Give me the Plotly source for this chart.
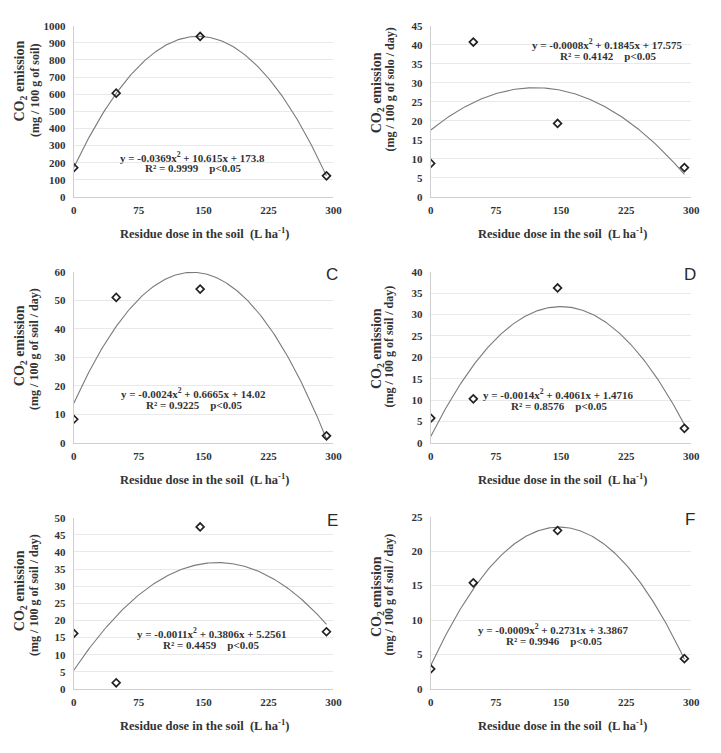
import numpy as np
import plotly.graph_objects as go

W, H = 721, 753

# ---------------- data ----------------
doses = [0, 49, 146, 292]
y_A = [171, 606, 937, 123]
y_B = [8.8, 40.7, 19.3, 7.7]
y_C = [8.3, 51.0, 53.9, 2.5]
y_D = [5.8, 10.3, 36.2, 3.4]
y_E = [16.2, 1.8, 47.3, 16.7]
y_F = [2.9, 15.4, 23.0, 4.4]

eq_A = ["y = -0.0369x<sup>2</sup> + 10.615x + 173.8", "R² = 0.9999    p<0.05"]
eq_B = ["y = -0.0008x<sup>2</sup> + 0.1845x + 17.575", "R² = 0.4142    p<0.05"]
eq_C = ["y = -0.0024x<sup>2</sup> + 0.6665x + 14.02", "R² = 0.9225    p<0.05"]
eq_D = ["y = -0.0014x<sup>2</sup> + 0.4061x + 1.4716", "R² = 0.8576    p<0.05"]
eq_E = ["y = -0.0011x<sup>2</sup> + 0.3806x + 5.2561", "R² = 0.4459    p<0.05"]
eq_F = ["y = -0.0009x<sup>2</sup> + 0.2731x + 3.3867", "R² = 0.9946    p<0.05"]

ytitle1 = "CO<sub>2</sub> emission"
ytitle2_A = "(mg / 100 g of soil)"
ytitle2_B = "(mg / 100 g of solo / day)"
ytitle2_C = "(mg / 100 g of soil / day)"
xtitle = "Residue dose in the soil  (L ha<sup>-1</sup>)"

x_ticks = [0, 75, 150, 225, 300]
ymax_A, ystep_A = 1000, 100
ymax_B, ystep_B = 45, 5
ymax_C, ystep_C = 60, 10
ymax_D, ystep_D = 40, 5
ymax_E, ystep_E = 50, 5
ymax_F, ystep_F = 25, 5
letters = ["", "", "C", "D", "E", "F"]

# ---------------- layout geometry (pixels) ----------------
panels = [
    dict(y=y_A, eq=eq_A, yt2=ytitle2_A, ymax=ymax_A, ystep=ystep_A,
         x0=72, x1=336, top=20, bot=194, eqx=193, eqy=153,
         yt1=(18, 76), yt2p=(32, 85)),
    dict(y=y_B, eq=eq_B, yt2=ytitle2_B, ymax=ymax_B, ystep=ystep_B,
         x0=435, x1=700, top=20, bot=194, eqx=615, eqy=39,
         yt1=(381, 88), yt2p=(393.5, 85)),
    dict(y=y_C, eq=eq_C, yt2=ytitle2_C, ymax=ymax_C, ystep=ystep_C,
         x0=72, x1=336, top=270, bot=444, eqx=194, eqy=393,
         yt1=(18, 345), yt2p=(32, 348)),
    dict(y=y_D, eq=eq_D, yt2=ytitle2_C, ymax=ymax_D, ystep=ystep_D,
         x0=435, x1=700, top=270, bot=444, eqx=565, eqy=394,
         yt1=(381, 348), yt2p=(393.5, 346)),
    dict(y=y_E, eq=eq_E, yt2=ytitle2_C, ymax=ymax_E, ystep=ystep_E,
         x0=72, x1=336, top=520, bot=694, eqx=212, eqy=637,
         yt1=(18, 594), yt2p=(32, 598)),
    dict(y=y_F, eq=eq_F, yt2=ytitle2_C, ymax=ymax_F, ystep=ystep_F,
         x0=435, x1=700, top=519, bot=694, eqx=560, eqy=633,
         yt1=(381, 600), yt2p=(393.5, 598)),
]

SERIF = "Liberation Serif, Times New Roman, serif"
SANS = "Liberation Sans, Arial, sans-serif"
TXT = "#333333"

def px(x):
    return x / W

def py(y):
    return 1 - y / H

fig = go.Figure()
layout = dict(width=W, height=H, margin=dict(l=0, r=0, t=0, b=0, pad=0),
              paper_bgcolor="white", plot_bgcolor="white", showlegend=False)
annotations = []

xs = np.linspace(0, doses[-1], 200)
for i, p in enumerate(panels):
    n = i + 1
    xa = "x" if n == 1 else f"x{n}"
    ya = "y" if n == 1 else f"y{n}"
    # quadratic least-squares trendline (as the spreadsheet trendline)
    a, b, c = np.polyfit(doses, p["y"], 2)
    fig.add_trace(go.Scatter(x=xs, y=a * xs**2 + b * xs + c, mode="lines",
                             line=dict(color="#7a7a7a", width=1.1),
                             xaxis=xa, yaxis=ya, hoverinfo="skip"))
    fig.add_trace(go.Scatter(x=doses, y=p["y"], mode="markers",
                             marker=dict(symbol="diamond-open", size=6,
                                         color="#222222", line=dict(width=1.7)),
                             xaxis=xa, yaxis=ya))
    xkey = "xaxis" if n == 1 else f"xaxis{n}"
    ykey = "yaxis" if n == 1 else f"yaxis{n}"
    layout[xkey] = dict(domain=[px(p["x0"]), px(p["x1"])], anchor=ya,
                        range=[0, 300], tickvals=x_ticks, showgrid=False,
                        zeroline=False, showline=True, linecolor="#cfcfcf",
                        linewidth=1, ticks="outside", ticklen=3,
                        tickcolor="rgba(0,0,0,0)",
                        tickfont=dict(family=SERIF, size=11, color=TXT,
                                      weight="bold"))
    layout[ykey] = dict(domain=[py(p["bot"]), py(p["top"])], anchor=xa,
                        range=[0, p["ymax"]], dtick=p["ystep"], tick0=0,
                        showgrid=True, gridcolor="#e9e9e9", gridwidth=1,
                        zeroline=False, showline=True, linecolor="#cfcfcf",
                        linewidth=1, ticks="outside", ticklen=5,
                        tickcolor="rgba(0,0,0,0)",
                        tickfont=dict(family=SERIF, size=11, color=TXT,
                                      weight="bold"))
    # equation
    for k in range(2):
        annotations.append(dict(x=px(p["eqx"]), y=py(p["eqy"] + 12 * k),
                                xref="paper", yref="paper", text=p["eq"][k],
                                showarrow=False, xanchor="center",
                                yanchor="middle",
                                font=dict(family=SERIF, size=11, color=TXT,
                                          weight="bold")))
    # y title (two rotated lines)
    for (tx, ty), t, fs in [(p["yt1"], ytitle1, 14), (p["yt2p"], p["yt2"], 12)]:
        annotations.append(dict(x=px(tx), y=py(ty),
                                xref="paper", yref="paper", text=t,
                                showarrow=False, textangle=-90,
                                xanchor="center", yanchor="middle",
                                font=dict(family=SERIF, size=fs, color=TXT,
                                          weight="bold")))
    # x title
    annotations.append(dict(x=px((p["x0"] + p["x1"]) / 2 + 1),
                            y=py(p["bot"] + 37), xref="paper", yref="paper",
                            text=xtitle, showarrow=False, xanchor="center",
                            yanchor="middle",
                            font=dict(family=SERIF, size=12.5, color=TXT,
                                      weight="bold")))
    if letters[i]:
        annotations.append(dict(x=px(p["x1"] - 1), y=py(p["top"] + 3),
                                xref="paper", yref="paper", text=letters[i],
                                showarrow=False, xanchor="center",
                                yanchor="middle",
                                font=dict(family=SANS, size=17, color="#2a2a2a")))

layout["annotations"] = annotations
fig.update_layout(**layout)
fig.write_html("out.html", config={"displayModeBar": False},
               post_script="document.body.style.margin='0px';")
